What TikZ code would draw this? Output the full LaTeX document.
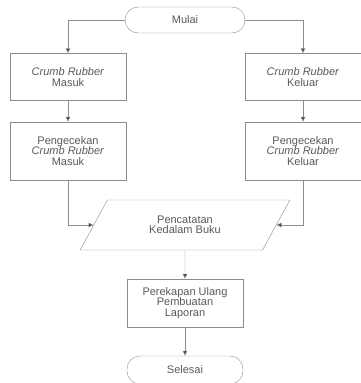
\documentclass[tikz,border=0pt]{standalone}
\usepackage{fontspec}
\setmainfont{Liberation Sans}
\usetikzlibrary{shapes.geometric}
\usetikzlibrary{arrows.meta}

\definecolor{lineclr}{gray}{0.55}
\definecolor{textclr}{gray}{0.35}

\tikzset{
    box/.style = {draw = lineclr, thin, text = textclr, align = center,
        minimum width = 116pt, font = \fontsize{11}{10.5}\selectfont},
    term/.style = {box, rounded corners = 13pt},
    io/.style = {box, trapezium, trapezium left angle = 61,
        trapezium right angle = 119, trapezium stretches = true},
    arr/.style = {draw = lineclr, thin, -{Latex[length=5pt, width=5pt, fill=black!70]}}
}

\newcommand{\crumb}{\textit{Crumb Rubber}}

\begin{document}
\begin{tikzpicture}[x=1pt, y=-1pt]
    \useasboundingbox (0,0) rectangle (361,383);
    \node [term, minimum width = 120pt, minimum height = 26pt](mulai) at (185,20){Mulai};
    \node [box, minimum height = 47pt](masuk) at (68,77){\crumb\\Masuk};
    \node [box, minimum height = 47pt](keluar) at (303,77){\crumb\\Keluar};
    \node [box, minimum height = 58pt](cekmasuk) at (68,151){Pengecekan\\\crumb\\Masuk};
    \node [box, minimum height = 58pt](cekkeluar) at (303,151){Pengecekan\\\crumb\\Keluar};
    \node [io, minimum width = 210pt, minimum height = 50pt](catat) at (185,225){Pencatatan\\Kedalam Buku};
    \node [box, minimum height = 48pt](laporan) at (185,303){Perekapan Ulang\\Pembuatan\\Laporan};
    \node [term, minimum height = 28pt](selesai) at (185,370){Selesai};
    \draw [arr](mulai.west) -| (masuk.north);
    \draw [arr](mulai.east) -| (keluar.north);
    \draw [arr](masuk) -- (cekmasuk);
    \draw [arr](keluar) -- (cekkeluar);
    \draw [arr](cekmasuk.south) |- (catat.west);
    \draw [arr](cekkeluar.south) |- (catat.east);
    \draw [arr](catat) -- (laporan);
    \draw [arr](laporan) -- (selesai);
\end{tikzpicture}
\end{document}
